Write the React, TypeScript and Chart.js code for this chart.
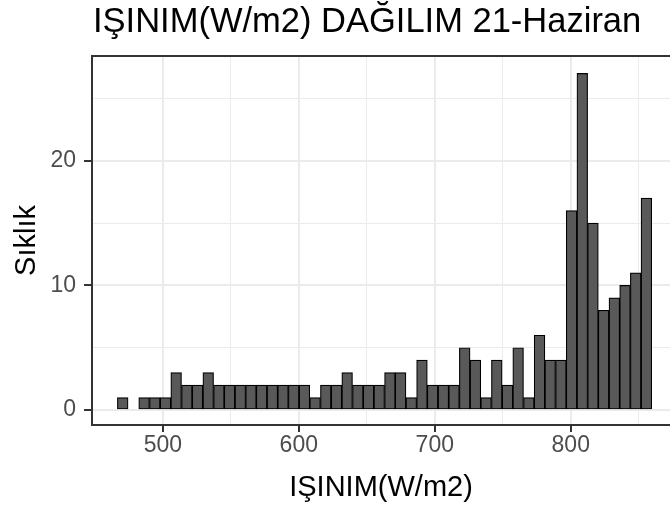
import { useEffect, useRef } from "react";
import { Chart, registerables } from "chart.js";
Chart.register(...registerables);

const TITLE = "IŞINIM(W/m2) DAĞILIM 21-Haziran";
const X_TITLE = "IŞINIM(W/m2)";
const Y_TITLE = "Sıklık";

const binCenters = [
  470.5, 478.36, 486.22, 494.08, 501.94, 509.8, 517.66, 525.52, 533.38, 541.24,
  549.1, 556.96, 564.82, 572.68, 580.54, 588.4, 596.26, 604.12, 611.98, 619.84,
  627.7, 635.56, 643.42, 651.28, 659.14, 667.0, 674.86, 682.72, 690.58, 698.44,
  706.3, 714.16, 722.02, 729.88, 737.74, 745.6, 753.46, 761.32, 769.18, 777.04,
  784.9, 792.76, 800.62, 808.48, 816.34, 824.2, 832.06, 839.92, 847.78, 855.64,
];
const counts = [
  1, 0, 1, 1, 1, 3, 2, 2, 3, 2,
  2, 2, 2, 2, 2, 2, 2, 2, 1, 2,
  2, 3, 2, 2, 2, 3, 3, 1, 4, 2,
  2, 2, 5, 4, 1, 4, 2, 5, 1, 6,
  4, 4, 16, 27, 15, 8, 9, 10, 11, 17,
];
const xTickValues = [500, 550, 600, 650, 700, 750, 800, 850];
const xLabeled = [500, 600, 700, 800];
const yTickValues = [0, 5, 10, 15, 20, 25];
const yLabeled = [0, 10, 20];

const FONT = '"Liberation Sans", Arial, sans-serif';

export default function App() {
  const ref = useRef<HTMLCanvasElement | null>(null);
  useEffect(() => {
    if (!ref.current) return;
    const frame = {
      id: "frame",
      afterDraw(chart: any) {
        const { ctx, chartArea } = chart;
        ctx.save();
        ctx.strokeStyle = "#333333";
        ctx.lineWidth = 2;
        ctx.beginPath();
        ctx.moveTo(chartArea.left, chartArea.top);
        ctx.lineTo(chart.width + 5, chartArea.top);
        ctx.moveTo(chartArea.left, chartArea.top - 1);
        ctx.lineTo(chartArea.left, chartArea.bottom + 1);
        ctx.moveTo(chartArea.left, chartArea.bottom);
        ctx.lineTo(chart.width + 5, chartArea.bottom);
        ctx.stroke();
        ctx.fillStyle = "#000000";
        ctx.font = `34.5px ${FONT}`;
        ctx.textBaseline = "alphabetic";
        ctx.textAlign = "left";
        ctx.fillText(TITLE, chartArea.left + 1, 32);
        ctx.restore();
      },
    };
    const chart = new Chart(ref.current, {
      type: "bar",
      data: {
        datasets: [
          {
            data: binCenters.map((x, i) => ({ x, y: counts[i] })),
            backgroundColor: "#595959",
            borderColor: "#000000",
            borderWidth: 1.2,
            borderSkipped: false,
            barPercentage: 1,
            categoryPercentage: 1,
            grouped: false,
          } as any,
        ],
      },
      options: {
        responsive: false,
        animation: false,
        layout: { padding: { top: 56, left: 0, right: 0, bottom: 0 } },
        plugins: { legend: { display: false }, tooltip: { enabled: false }, title: { display: false } },
        scales: {
          x: {
            type: "linear",
            offset: false,
            min: 447.9,
            max: 873,
            afterBuildTicks: (s: any) => {
              s.ticks = xTickValues.map((v) => ({ value: v }));
            },
            afterFit: (s: any) => {
              s.height = 88;
            },
            ticks: {
              autoSkip: false,
              maxRotation: 0,
              padding: 0,
              color: "#4D4D4D",
              font: { family: FONT, size: 23 },
              callback: (v: any) => (xLabeled.includes(Number(v)) ? String(v) : ""),
            },
            grid: {
              offset: false,
              color: "#EBEBEB",
              lineWidth: (c: any) => (c.tick && c.tick.value % 100 === 0 ? 2 : 1),
              tickColor: (c: any) => (c.tick && c.tick.value % 100 === 0 ? "#333333" : "rgba(0,0,0,0)"),
              tickWidth: 2,
              tickLength: 7,
            },
            border: { display: false },
            title: {
              display: true,
              text: X_TITLE,
              color: "#000000",
              font: { family: FONT, size: 29 },
              padding: { top: 0, bottom: 8 },
            },
          },
          y: {
            type: "linear",
            min: -1.2,
            max: 28.4,
            afterBuildTicks: (s: any) => {
              s.ticks = yTickValues.map((v) => ({ value: v }));
            },
            afterFit: (s: any) => {
              s.width = 92;
            },
            ticks: {
              autoSkip: false,
              padding: 8,
              color: "#4D4D4D",
              font: { family: FONT, size: 23 },
              callback: (v: any) => (yLabeled.includes(Number(v)) ? String(v) : ""),
            },
            grid: {
              color: "#EBEBEB",
              lineWidth: (c: any) => (c.tick && c.tick.value % 10 === 0 ? 2 : 1),
              tickColor: (c: any) => (c.tick && c.tick.value % 10 === 0 ? "#333333" : "rgba(0,0,0,0)"),
              tickWidth: 2,
              tickLength: 8,
            },
            border: { display: false },
            title: {
              display: true,
              text: Y_TITLE,
              color: "#000000",
              font: { family: FONT, size: 29 },
              padding: { top: 10, bottom: 0 },
            },
          },
        },
      },
      plugins: [frame],
    });
    return () => chart.destroy();
  }, []);
  return (
    <div style={{ position: "fixed", left: 0, top: 0, width: 670, height: 513, background: "#ffffff", overflow: "hidden" }}>
      <canvas ref={ref} width={670} height={513} style={{ width: 670, height: 513, display: "block" }} />
    </div>
  );
}
